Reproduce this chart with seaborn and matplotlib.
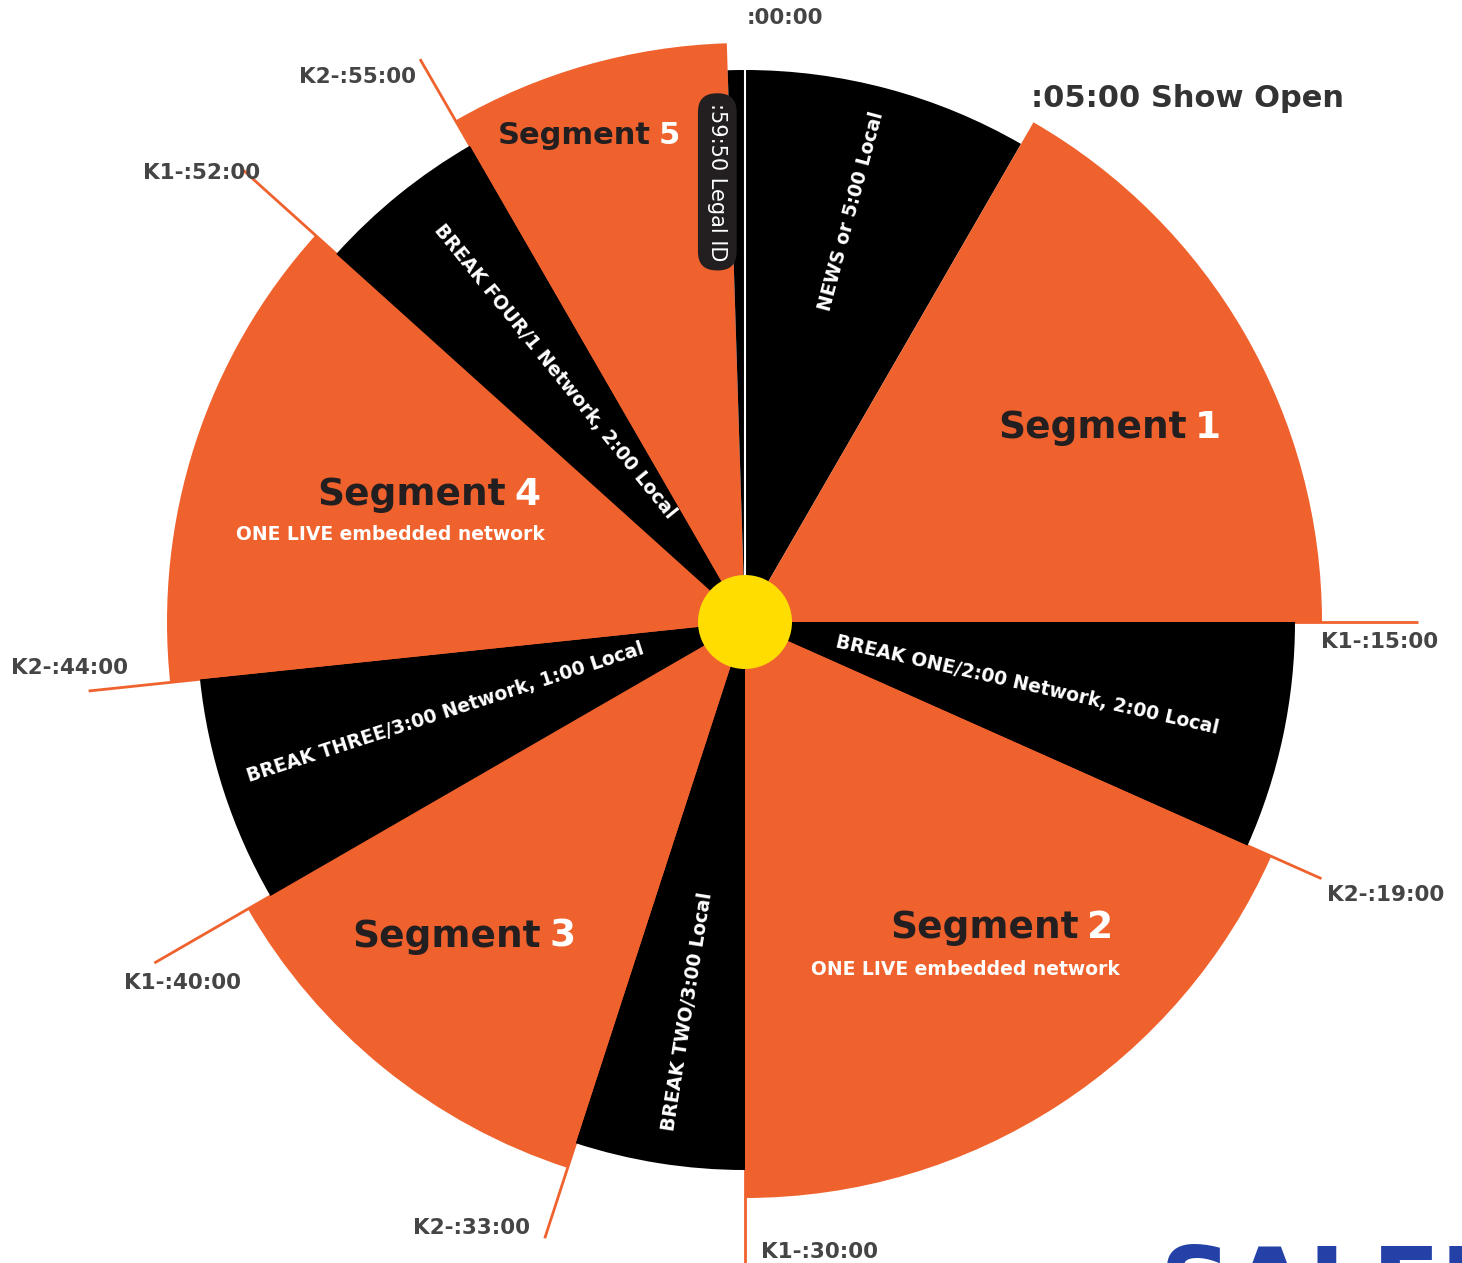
import numpy as np
import seaborn as sns
import matplotlib.pyplot as plt

# clock of one broadcast hour, minutes
starts = [0, 5, 15, 19, 30, 33, 40, 44, 52, 55, 59.7]
ends = [5, 15, 19, 30, 33, 40, 44, 52, 55, 59.7, 60]
kinds = ['break', 'segment', 'break', 'segment', 'break', 'segment',
         'break', 'segment', 'break', 'segment', 'break']
radii = [552, 577, 550, 576, 548, 574, 548, 578, 550, 579, 552]

# cue marks round the rim
cue_minutes = [15, 19, 30, 33, 40, 44, 52, 55]
cue_len = [673, 631, 665, 648, 682, 660, 675, 650]
cue_labels = ['K1-:15:00', 'K2-:19:00', 'K1-:30:00', 'K2-:33:00',
              'K1-:40:00', 'K2-:44:00', 'K1-:52:00', 'K2-:55:00']
cue_label_pos = [(15.3, 635), (18.85, 697), (28.87, 634), (34.05, 665),
                 (39.55, 669), (44.35, 677), (51.6, 705), (54.1, 669)]

# text inside the wedges
break_texts = ['NEWS or 5:00 Local', 'BREAK ONE/2:00 Network, 2:00 Local',
               'BREAK TWO/3:00 Local', 'BREAK THREE/3:00 Network, 1:00 Local',
               'BREAK FOUR/1 Network, 2:00 Local']
break_pos = [(2.43, 424), (17.1, 289), (31.4, 394), (42.2, 313), (53.8, 314)]
break_rot = [75, -12.8, 81, 18, -51]

seg_numbers = ['1', '2', '3', '4', '5']
seg_pos = [(11.08, 486), (22.03, 456), (35.4, 373), (49.73, 267), (58.25, 495)]
seg_size = [27, 27, 27, 27, 22]
subtitles = ['ONE LIVE embedded network', 'ONE LIVE embedded network']
subtitle_pos = [(24.6, 411), (47.3, 365)]

ORANGE = '#F0622D'
DARK = '#231F20'
GREY = '#454545'

sns.set_theme(style='white')
plt.rcParams['font.family'] = ['DejaVu Sans']
pal = {'segment': ORANGE, 'break': '#000000'}


def th(m):
    return np.asarray(m) * 2 * np.pi / 60


W, H = 1462, 1263
cx, cy, R = 745, 622, 720
fig = plt.figure(figsize=(W / 100, H / 100), dpi=100)
ax = fig.add_axes([(cx - R) / W, (H - cy - R) / H, 2 * R / W, 2 * R / H],
                  projection='polar')
ax.set_theta_zero_location('N')
ax.set_theta_direction(-1)
ax.set_ylim(0, R)
ax.axis('off')

# cue lines underneath the wedges
for m, L in zip(cue_minutes, cue_len):
    ax.plot([th(m), th(m)], [0, L], color=ORANGE, lw=2, zorder=1,
            solid_capstyle='butt')

s = np.array(starts)
e = np.array(ends)
ax.bar(th(s), radii, width=th(e - s), align='edge',
       color=[pal[k] for k in kinds], edgecolor='none', zorder=2)
ax.plot([0, 0], [0, 552], color='white', lw=1.5, zorder=3)

# centre hub
ax.bar(0, 47, width=2 * np.pi, color='#FFDD00', edgecolor='none', zorder=4)

for (m, r), t, rot in zip(break_pos, break_texts, break_rot):
    ax.text(th(m), r, t, rotation=rot, rotation_mode='anchor', ha='center',
            va='center', color='white', fontsize=13.5, fontweight='bold',
            zorder=5)

for (m, r), n, fs in zip(seg_pos, seg_numbers, seg_size):
    ax.annotate('Segment', (th(m), r), xytext=(-4, 0),
                textcoords='offset pixels', ha='right', va='center',
                color=DARK, fontsize=fs, fontweight='bold', zorder=5)
    ax.annotate(n, (th(m), r), xytext=(4, 0), textcoords='offset pixels',
                ha='left', va='center', color='white', fontsize=fs,
                fontweight='bold', zorder=5)

for (m, r), t in zip(subtitle_pos, subtitles):
    ax.text(th(m), r, t, ha='center', va='center', color='white',
            fontsize=13.5, fontweight='bold', zorder=5)

ax.text(th(59.4), 441, ':59:50 Legal ID', rotation=-90, ha='center',
        va='center', color='white', fontsize=15, zorder=6,
        bbox=dict(boxstyle='round,pad=0.45,rounding_size=0.9', fc=DARK,
                  ec='none'))

for (m, r), t in zip(cue_label_pos, cue_labels):
    ax.text(th(m), r, t, ha='center', va='center', color=GREY,
            fontsize=15.5, fontweight='bold')
ax.text(th(0.63), 605, ':00:00', ha='center', va='center', color=GREY,
        fontsize=15.5, fontweight='bold')
ax.text(th(6.7), 686, ':05:00 Show Open', ha='center', va='center',
        color='#333333', fontsize=22, fontweight='bold')

# logo peeking in at the bottom edge
fig.text(1160 / W, 1 - 1243 / H, 'SALEM', ha='left', va='top',
         color='#2341A6', fontsize=72, fontweight='bold')

fig.savefig('out.png', dpi=100)
